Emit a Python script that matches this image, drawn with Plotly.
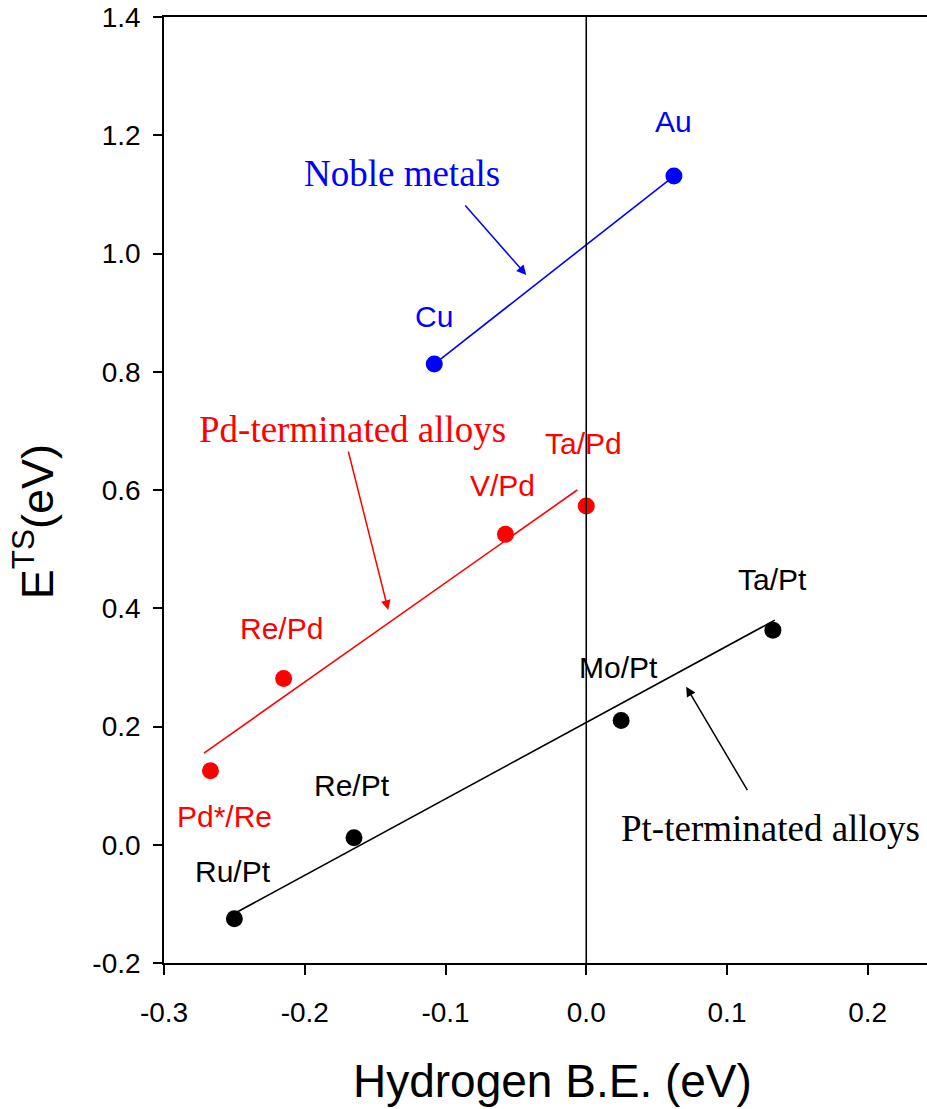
import plotly.graph_objects as go

# Data points
noble_names = ["Cu", "Au"]
noble_x = [-0.108, 0.0623]
noble_y = [0.813, 1.131]

pd_names = ["Pd*/Re", "Re/Pd", "V/Pd", "Ta/Pd"]
pd_x = [-0.267, -0.215, -0.0574, 0.0]
pd_y = [0.125, 0.281, 0.525, 0.573]

pt_names = ["Ru/Pt", "Re/Pt", "Mo/Pt", "Ta/Pt"]
pt_x = [-0.25, -0.165, 0.0248, 0.1326]
pt_y = [-0.125, 0.012, 0.21, 0.363]

# Fit lines (endpoints)
noble_fit_x = [-0.108, 0.0623]
noble_fit_y = [0.813, 1.131]
pd_fit_x = [-0.2716, -0.0064]
pd_fit_y = [0.155, 0.600]
pt_fit_x = [-0.249, 0.134]
pt_fit_y = [-0.115, 0.380]

# Label positions
noble_lab_x = [-0.1082, 0.0623]
noble_lab_y = [0.894, 1.224]
pd_lab_x = [-0.2567, -0.2165, -0.0592, -0.0016]
pd_lab_y = [0.047, 0.3666, 0.607, 0.678]
pt_lab_x = [-0.2513, -0.1665, 0.0232, 0.1323]
pt_lab_y = [-0.0444, 0.0994, 0.299, 0.448]

BLUE = "#0000ff"
RED = "#ff0000"
BLACK = "#000000"
SANS = "Liberation Sans, Arial"
SERIF = "Liberation Serif, Times New Roman"

fig = go.Figure()
for fx, fy, c in [(noble_fit_x, noble_fit_y, BLUE), (pd_fit_x, pd_fit_y, RED), (pt_fit_x, pt_fit_y, BLACK)]:
    fig.add_trace(go.Scatter(x=fx, y=fy, mode="lines", line=dict(color=c, width=1.6),
                             showlegend=False, hoverinfo="skip"))
for xs, ys, c in [(noble_x, noble_y, BLUE), (pd_x, pd_y, RED), (pt_x, pt_y, BLACK)]:
    fig.add_trace(go.Scatter(x=xs, y=ys, mode="markers", marker=dict(color=c, size=17),
                             showlegend=False))

annos = []
for names, lx, ly, c in [(noble_names, noble_lab_x, noble_lab_y, BLUE),
                          (pd_names, pd_lab_x, pd_lab_y, RED),
                          (pt_names, pt_lab_x, pt_lab_y, BLACK)]:
    for n, x, y in zip(names, lx, ly):
        annos.append(dict(x=x, y=y, text=n, showarrow=False,
                          font=dict(family=SANS, size=30, color=c)))

# Group labels
annos.append(dict(x=-0.1309, y=1.1345, text="Noble metals", showarrow=False,
                  font=dict(family=SERIF, size=37, color=BLUE)))
annos.append(dict(x=-0.166, y=0.7015, text="Pd-terminated alloys", showarrow=False,
                  font=dict(family=SERIF, size=37, color=RED)))
annos.append(dict(x=0.1312, y=0.0283, text="Pt-terminated alloys", showarrow=False,
                  font=dict(family=SERIF, size=37, color=BLACK)))
# Arrows
for (tx, ty, hx, hy, c) in [(-0.0869, 1.0837, -0.0426, 0.9636, BLUE),
                            (-0.1693, 0.6677, -0.1407, 0.3971, RED),
                            (0.1151, 0.0897, 0.0710, 0.2673, BLACK)]:
    annos.append(dict(x=hx, y=hy, ax=tx, ay=ty, axref="x", ayref="y", xref="x", yref="y",
                      text="", showarrow=True, arrowhead=2, arrowsize=1.3, arrowwidth=1.5,
                      arrowcolor=c))

# Axis titles
annos.append(dict(xref="paper", yref="paper", x=0.5098, y=-0.1247, text="Hydrogen B.E. (eV)",
                  showarrow=False, xanchor="center", yanchor="middle",
                  font=dict(family=SANS, size=46, color=BLACK)))
annos.append(dict(xref="paper", yref="paper", x=-0.1704, y=0.467, text="E<sup>TS</sup>(eV)",
                  showarrow=False, xanchor="center", yanchor="middle", textangle=-90,
                  font=dict(family=SANS, size=45, color=BLACK)))

fig.update_layout(
    width=927, height=1109,
    margin=dict(l=164, r=0, t=17, b=146),
    plot_bgcolor="white", paper_bgcolor="white",
    annotations=annos,
    shapes=[dict(type="line", xref="x", yref="paper", x0=0, x1=0, y0=0, y1=1,
                 line=dict(color="black", width=1.6))],
    font=dict(family=SANS, color="black"),
)
fig.update_xaxes(range=[-0.3, 0.2421], tickvals=[-0.3, -0.2, -0.1, 0.0, 0.1, 0.2],
                 ticktext=["-0.3", "-0.2", "-0.1", "0.0", "0.1", "0.2"],
                 showgrid=False, zeroline=False, showline=True, linecolor="black", linewidth=1.6,
                 mirror=True, ticks="outside", ticklen=10, tickwidth=1.6, tickcolor="black",
                 tickfont=dict(size=28), ticklabelstandoff=14, ticklabeloverflow="allow")
fig.update_yaxes(range=[-0.2, 1.4], tickvals=[-0.2, 0.0, 0.2, 0.4, 0.6, 0.8, 1.0, 1.2, 1.4],
                 ticktext=["-0.2", "0.0", "0.2", "0.4", "0.6", "0.8", "1.0", "1.2", "1.4"],
                 showgrid=False, zeroline=False, showline=True, linecolor="black", linewidth=1.6,
                 ticks="outside", ticklen=9, tickwidth=1.6, tickcolor="black",
                 tickfont=dict(size=28), ticklabelstandoff=7, ticklabeloverflow="allow")

fig.write_html("out.html", config={"displayModeBar": False},
               post_script="document.body.style.margin='0';document.body.style.overflow='hidden';")
